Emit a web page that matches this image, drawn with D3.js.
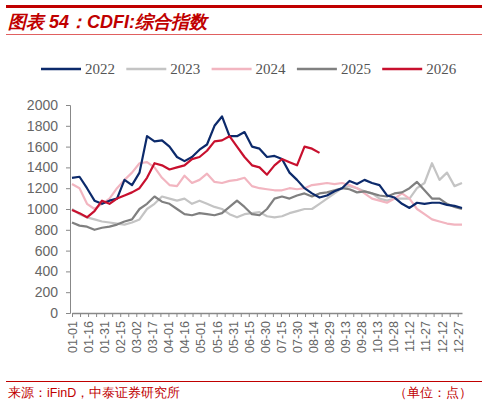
<!DOCTYPE html>
<html>
<head>
<meta charset="utf-8">
<script src="https://cdn.jsdelivr.net/npm/d3@7"></script>
<style>
  body { margin: 0; background: #fff; }
  svg text { font-family: "Liberation Sans", Arial, sans-serif; }
</style>
</head>
<body>
<svg id="chart"></svg>
<script>
// weekly samples: value i is at day 7*i of the year
const YEARS = ["2022", "2023", "2024", "2025", "2026"];
const COLORS = ["#0c2a6b", "#c4c4c4", "#f2b5c0", "#808080", "#c8102e"];

const S2022 = [1300, 1310, 1200, 1080, 1050, 1080, 1100, 1280, 1230, 1350, 1700, 1650, 1660, 1600,
  1500, 1460, 1500, 1570, 1620, 1800, 1890, 1700, 1700, 1740, 1600, 1580, 1500, 1510, 1480, 1350,
  1280, 1200, 1150, 1110, 1130, 1170, 1200, 1270, 1240, 1280, 1250, 1230, 1130, 1110, 1050, 1010,
  1060, 1050, 1060, 1060, 1040, 1030, 1010];
const S2023 = [1000, 950, 920, 900, 880, 870, 860, 850, 870, 900, 1000, 1050, 1120, 1100, 1080, 1100,
  1050, 1080, 1050, 1020, 1000, 950, 920, 950, 960, 970, 930, 920, 930, 960, 980, 1000, 1000, 1050,
  1100, 1150, 1200, 1220, 1200, 1170, 1150, 1100, 1080, 1100, 1100, 1100, 1200, 1250, 1440, 1280,
  1350, 1220, 1250];
const S2024 = [1240, 1200, 1050, 1000, 1050, 1100, 1200, 1280, 1350, 1440, 1450, 1400, 1300, 1230,
  1220, 1320, 1250, 1280, 1340, 1260, 1250, 1270, 1280, 1300, 1220, 1200, 1190, 1180, 1180, 1200,
  1190, 1200, 1230, 1240, 1250, 1240, 1250, 1230, 1200, 1150, 1100, 1080, 1060, 1100, 1150, 1100,
  1000, 950, 900, 880, 860, 850, 850];
const S2025 = [870, 840, 830, 800, 820, 830, 850, 880, 900, 1000, 1050, 1120, 1070, 1050, 1000, 950,
  940, 960, 950, 940, 960, 1020, 1080, 1020, 950, 940, 1000, 1100, 1120, 1100, 1130, 1150, 1120,
  1150, 1160, 1180, 1200, 1190, 1160, 1170, 1150, 1130, 1120, 1150, 1160, 1200, 1260, 1180, 1100,
  1100, 1050, 1020, 1000];
const S2026 = [990, 960, 920, 980, 1080, 1050, 1100, 1130, 1160, 1200, 1300, 1440, 1420, 1380, 1400,
  1420, 1480, 1500, 1560, 1650, 1660, 1700, 1600, 1500, 1420, 1400, 1330, 1420, 1480, 1450, 1420,
  1600, 1580, 1540];
const SERIES = [S2022, S2023, S2024, S2025, S2026];

const Y_TICKS = [0, 200, 400, 600, 800, 1000, 1200, 1400, 1600, 1800, 2000];
const X_LABELS = ["01-01", "01-16", "01-31", "02-15", "03-02", "03-17", "04-01", "04-16", "05-01",
  "05-16", "05-31", "06-15", "06-30", "07-15", "07-30", "08-14", "08-29", "09-13", "09-28",
  "10-13", "10-28", "11-12", "11-27", "12-12", "12-27"];

const W = 488, H = 405;
const margin = { left: 72, right: 26, top: 105, bottom: 92 };

const svg = d3.select("#chart").attr("width", W).attr("height", H);

// header
svg.append("rect").attr("x", 6).attr("y", 5).attr("width", 476).attr("height", 3).attr("fill", "#c00000");
svg.append("text").attr("x", 8).attr("y", 28)
  .attr("fill", "#c00000").attr("font-size", 18).attr("font-weight", "bold").attr("font-style", "italic")
  .text("图表 54：CDFI:综合指数");
svg.append("rect").attr("x", 6).attr("y", 34).attr("width", 476).attr("height", 1).attr("fill", "#e06060");

// legend
const legend = svg.append("g").attr("transform", "translate(41, 69)");
YEARS.forEach((y, i) => {
  const g = legend.append("g").attr("transform", `translate(${i * 85.3}, 0)`);
  g.append("line").attr("x1", 0).attr("x2", 40).attr("stroke", COLORS[i]).attr("stroke-width", 2.5);
  g.append("text").attr("x", 44).attr("y", 5).attr("fill", "#555")
    .style("font-family", "'Liberation Serif', serif").attr("font-size", 15).text(y);
});

const x = d3.scaleLinear().domain([0, 364]).range([margin.left, W - margin.right]);
const y = d3.scaleLinear().domain([0, 2000]).range([H - margin.bottom, margin.top]);

// y axis
const yAxis = svg.append("g").attr("transform", `translate(${margin.left - 2}, 0)`)
  .call(d3.axisLeft(y).tickValues(Y_TICKS).tickFormat(d3.format("d")).tickSize(4).tickPadding(8));
yAxis.select(".domain").attr("stroke", "#888");
yAxis.selectAll("line").attr("stroke", "#888");
yAxis.selectAll("text").attr("fill", "#666").attr("font-size", 14);

// x axis
const labelDays = X_LABELS.map((d, i) => i * 15);
const minor = labelDays.map(d => d + 7.5).filter(d => d <= 364);
const xAxisG = svg.append("g").attr("transform", `translate(0, ${y(0)})`);
xAxisG.append("g").call(d3.axisBottom(x).tickValues(minor).tickSize(4).tickFormat(""))
  .call(g => g.select(".domain").remove()).selectAll("line").attr("stroke", "#888");
const xAxis = xAxisG.append("g")
  .call(d3.axisBottom(x).tickValues(labelDays).tickSize(4).tickSizeOuter(0)
    .tickFormat((d, i) => X_LABELS[i]));
xAxis.select(".domain").attr("stroke", "#888").attr("stroke-width", 1.5);
xAxis.selectAll("line").attr("stroke", "#888");
xAxis.selectAll("text").attr("fill", "#666").attr("font-size", 12.5)
  .attr("transform", "rotate(-90)").attr("text-anchor", "end")
  .attr("x", -8).attr("y", 0).attr("dy", "0.35em");

// lines (2023 and 2024 behind, 2026 on top)
const line = d3.line().x((d, i) => x(i * 7)).y(d => y(d));
[1, 2, 3, 0, 4].forEach(k => {
  svg.append("path").datum(SERIES[k]).attr("d", line)
    .attr("fill", "none").attr("stroke", COLORS[k]).attr("stroke-width", 2.2)
    .attr("stroke-linejoin", "round");
});

// footer
svg.append("rect").attr("x", 6).attr("y", 381).attr("width", 476).attr("height", 1).attr("fill", "#c00000");
svg.append("text").attr("x", 8).attr("y", 397).attr("fill", "#c00000").attr("font-size", 12.5)
  .text("来源：iFinD，中泰证券研究所");
svg.append("text").attr("x", 472).attr("y", 397).attr("fill", "#c00000").attr("font-size", 12.5)
  .attr("text-anchor", "end").text("（单位：点）");
</script>
</body>
</html>
